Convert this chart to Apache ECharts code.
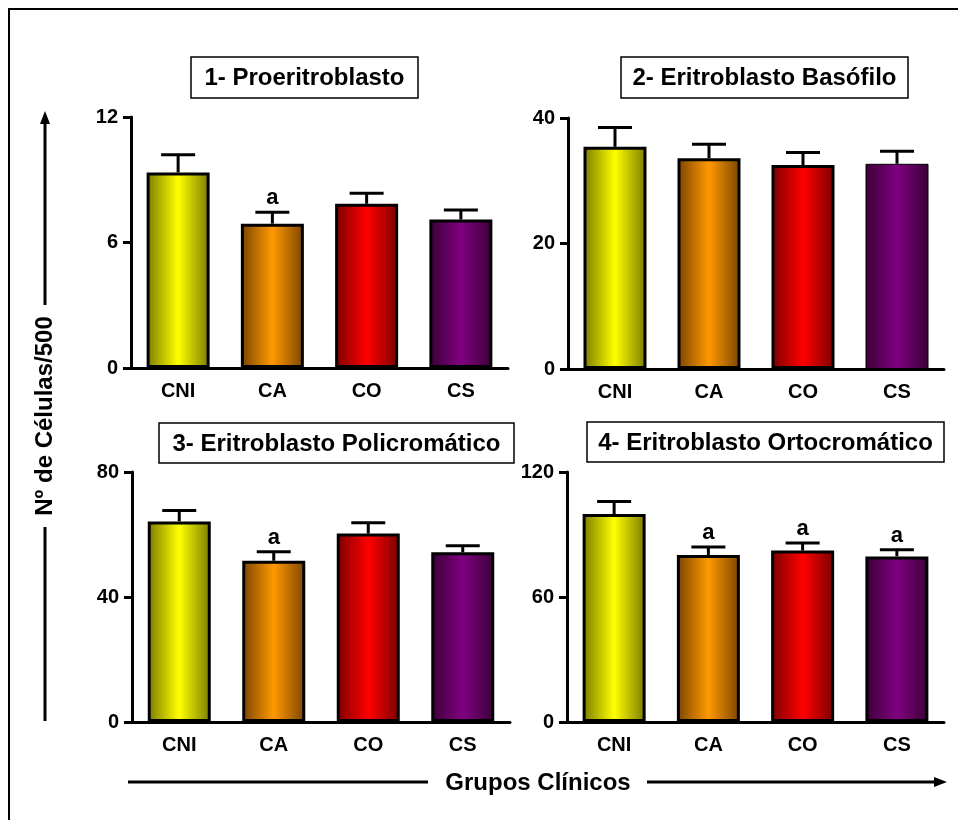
<!DOCTYPE html>
<html>
<head>
<meta charset="utf-8">
<script src="https://cdn.jsdelivr.net/npm/echarts@6/dist/echarts.min.js"></script>
<style>
html,body{margin:0;padding:0;background:#fff;}
#c{width:958px;height:820px;}
</style>
</head>
<body>
<div id="c"></div>
<script>
// ---- data ----
const categories = ['CNI', 'CA', 'CO', 'CS'];

const panelTitles = ['1- Proeritroblasto', '2- Eritroblasto Basófilo', '3- Eritroblasto Policromático', '4- Eritroblasto Ortocromático'];

const proMean = [9.35, 6.9, 7.85, 7.1];
const proErr  = [10.2, 7.45, 8.35, 7.55];
const proSig  = ['', 'a', '', ''];

const basMean = [35.4, 33.6, 32.5, 32.7];
const basErr  = [38.5, 35.8, 34.5, 34.7];
const basSig  = ['', '', '', ''];

const polMean = [64.2, 51.6, 60.3, 54.3];
const polErr  = [67.7, 54.5, 63.8, 56.4];
const polSig  = ['', 'a', '', ''];

const ortMean = [99.8, 80.2, 82.3, 79.5];
const ortErr  = [105.8, 84.0, 85.9, 82.7];
const ortSig  = ['', 'a', 'a', 'a'];

const yMax = [12, 40, 80, 120];
const yInterval = [6, 20, 40, 60];

const yAxisName = 'Nº de Células/500';
const xAxisName = 'Grupos Clínicos';

// ---- styling ----
const FONT = "'Liberation Sans', Arial, sans-serif";
const darkColors = ['#7a7a00', '#7a4400', '#7a0000', '#3a0038'];
const brightColors = ['#ffff00', '#ff9900', '#ff0000', '#800080'];

function grad(i) {
  return new echarts.graphic.LinearGradient(0, 0, 1, 0, [
    {offset: 0, color: darkColors[i]},
    {offset: 0.5, color: brightColors[i]},
    {offset: 1, color: darkColors[i]}
  ]);
}

const panels = [
  {mean: proMean, err: proErr, sig: proSig},
  {mean: basMean, err: basErr, sig: basSig},
  {mean: polMean, err: polErr, sig: polSig},
  {mean: ortMean, err: ortErr, sig: ortSig}
];

const grids = [
  {left: 131, top: 117, width: 377, height: 251},
  {left: 568, top: 118, width: 376, height: 251},
  {left: 132, top: 472, width: 378, height: 250},
  {left: 567, top: 472, width: 377, height: 250}
];

const titleBoxes = [
  [191, 57, 418, 98],
  [621, 57, 908, 98],
  [159, 423, 514, 463],
  [587, 422, 944, 462]
];

const xAxes = [], yAxes = [], series = [];
panels.forEach((p, k) => {
  xAxes.push({
    type: 'category', gridIndex: k, data: categories,
    axisLine: {lineStyle: {color: '#000', width: 3}},
    axisTick: {show: false},
    axisLabel: {color: '#000', fontFamily: FONT, fontWeight: 'bold', fontSize: 20, margin: 13}
  });
  yAxes.push({
    type: 'value', gridIndex: k, min: 0, max: yMax[k], interval: yInterval[k],
    axisLine: {show: true, lineStyle: {color: '#000', width: 3}},
    axisTick: {show: true, length: 8, lineStyle: {color: '#000', width: 3}},
    splitLine: {show: false},
    axisLabel: {color: '#000', fontFamily: FONT, fontWeight: 'bold', fontSize: 20, margin: 13}
  });
  series.push({
    type: 'bar', xAxisIndex: k, yAxisIndex: k, barWidth: 63, z: 2,
    data: p.mean.map((v, i) => ({
      value: v,
      itemStyle: {
        color: grad(i), borderColor: '#000',
        borderWidth: (k === 1 && i === 3) ? 1 : 3
      }
    }))
  });
  series.push({
    type: 'custom', xAxisIndex: k, yAxisIndex: k, z: 3,
    data: p.mean.map((v, i) => [i, v, p.err[i]]),
    renderItem: function (params, api) {
      const x = api.value(0);
      const p0 = api.coord([x, api.value(1)]);
      const p1 = api.coord([x, api.value(2)]);
      const children = [
        {type: 'line', shape: {x1: p0[0], y1: p0[1], x2: p1[0], y2: p1[1]}, style: {stroke: '#000', lineWidth: 3}},
        {type: 'line', shape: {x1: p1[0] - 17, y1: p1[1], x2: p1[0] + 17, y2: p1[1]}, style: {stroke: '#000', lineWidth: 3}}
      ];
      const s = p.sig[params.dataIndex];
      if (s) {
        children.push({type: 'text', style: {x: p1[0], y: p1[1] - 14, text: s, fill: '#000',
          font: 'bold 22px ' + FONT, textAlign: 'center', textVerticalAlign: 'middle'}});
      }
      return {type: 'group', children: children};
    }
  });
});

const graphics = [];
// outer frame
graphics.push({type: 'rect', shape: {x: 9, y: 9, width: 960, height: 830},
  style: {fill: 'none', stroke: '#000', lineWidth: 2}, silent: true});
// title boxes
titleBoxes.forEach((b, k) => {
  graphics.push({type: 'rect', shape: {x: b[0], y: b[1], width: b[2] - b[0], height: b[3] - b[1]},
    style: {fill: '#fff', stroke: '#000', lineWidth: 1.5}});
  graphics.push({type: 'text', x: (b[0] + b[2]) / 2, y: (b[1] + b[3]) / 2 + 1,
    style: {text: panelTitles[k], fill: '#000', font: 'bold 24px ' + FONT, textAlign: 'center', textVerticalAlign: 'middle'}});
});
// y-axis name with arrow
graphics.push({type: 'line', shape: {x1: 45, y1: 122, x2: 45, y2: 305}, style: {stroke: '#000', lineWidth: 3}});
graphics.push({type: 'polygon', shape: {points: [[45, 111], [40, 124], [50, 124]]}, style: {fill: '#000'}});
graphics.push({type: 'line', shape: {x1: 45, y1: 527, x2: 45, y2: 721}, style: {stroke: '#000', lineWidth: 3}});
graphics.push({type: 'text', x: 45, y: 416, rotation: Math.PI / 2,
  style: {text: yAxisName, fill: '#000', font: 'bold 24px ' + FONT, textAlign: 'center', textVerticalAlign: 'middle'}});
// x-axis name with arrow
graphics.push({type: 'line', shape: {x1: 128, y1: 782, x2: 428, y2: 782}, style: {stroke: '#000', lineWidth: 3}});
graphics.push({type: 'line', shape: {x1: 647, y1: 782, x2: 936, y2: 782}, style: {stroke: '#000', lineWidth: 3}});
graphics.push({type: 'polygon', shape: {points: [[947, 782], [934, 777], [934, 787]]}, style: {fill: '#000'}});
graphics.push({type: 'text', x: 538, y: 783,
  style: {text: xAxisName, fill: '#000', font: 'bold 24px ' + FONT, textAlign: 'center', textVerticalAlign: 'middle'}});

const chart = echarts.init(document.getElementById('c'), null, {renderer: 'canvas'});
chart.setOption({
  backgroundColor: '#fff',
  animation: false,
  grid: grids,
  xAxis: xAxes,
  yAxis: yAxes,
  series: series,
  graphic: graphics
});
</script>
</body>
</html>
